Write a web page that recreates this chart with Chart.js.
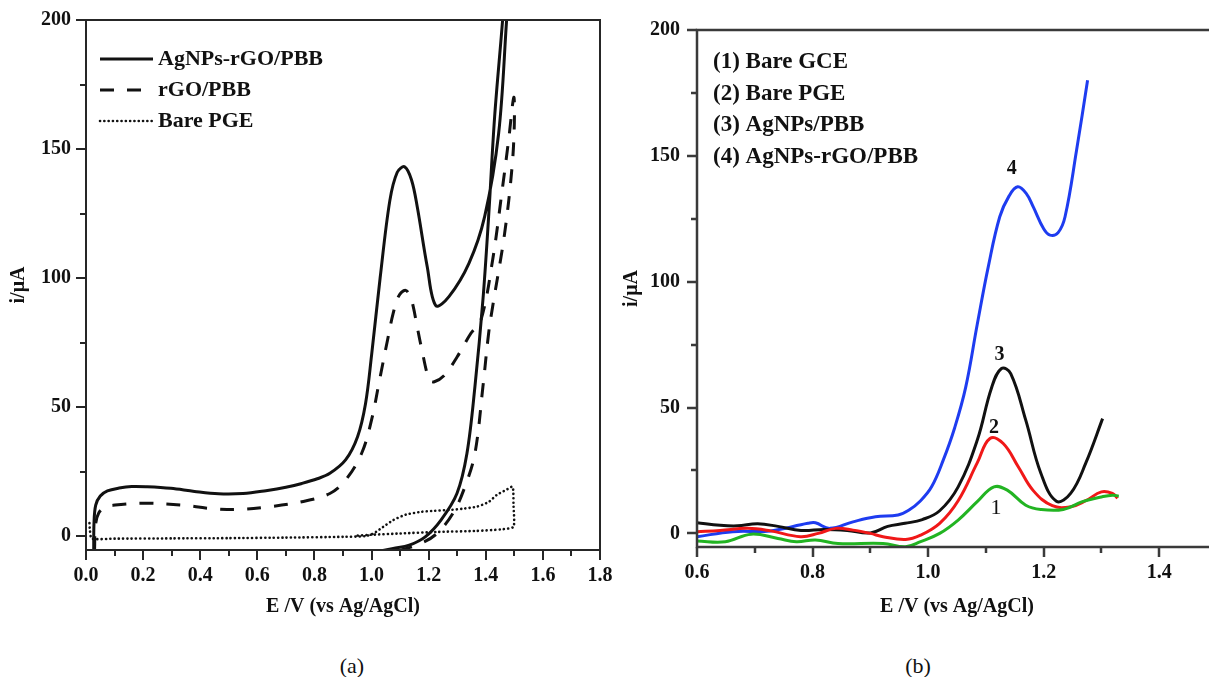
<!DOCTYPE html>
<html lang="en">
<head>
<meta charset="UTF-8">
<title>AgNPs-rGO/PBB electrode: CV and DPV</title>
<script src="https://cdn.jsdelivr.net/npm/chart.js"></script>
<style>
  html, body { margin: 0; padding: 0; background: #fff; overflow: hidden; }
  body { width: 1209px; height: 677px; position: relative; font-family: "Liberation Serif", "Times New Roman", serif; }
  #cvChart { position: absolute; left: 0; top: -8px; }
  #dpvChart { position: absolute; left: 612px; top: 0; }
  .caption { position: absolute; top: 653px; width: 60px; margin-left: -30px; text-align: center; font-size: 22px; line-height: 26px; color: #111; }
</style>
</head>
<body>
<canvas id="cvChart" width="628" height="648"></canvas>
<canvas id="dpvChart" width="620" height="640"></canvas>
<div class="caption" style="left:352px">(a)</div>
<div class="caption" style="left:918px">(b)</div>

<script>
// ---- (a) cyclic voltammograms, forward sweep then reverse sweep ----
const cvLabels = ['AgNPs-rGO/PBB', 'rGO/PBB', 'Bare PGE'];

const cvCompositeE = [0.027, 0.028, 0.034, 0.05, 0.075, 0.116, 0.16, 0.214, 0.297, 0.38, 0.464, 0.55, 0.63, 0.7, 0.756,
  0.81, 0.854, 0.909, 0.951, 0.979, 1.0, 1.03, 1.064, 1.09, 1.116, 1.14, 1.16, 1.195, 1.225, 1.271, 1.341, 1.396,
  1.445, 1.473, 1.482,
  1.468, 1.459, 1.431, 1.41, 1.39, 1.362, 1.334, 1.299, 1.243, 1.188, 1.132, 1.076, 1.04];
const cvCompositeI = [-5.5, 5, 12, 15.5, 17.5, 18.6, 19.2, 19.1, 18.5, 17.3, 16.4, 16.5, 17.6, 18.9, 20.4,
  22.2, 24.3, 29.5, 38.5, 51.4, 70, 100, 130, 141, 143.1, 138, 127.6, 104.4, 89.3, 92.8, 105.7, 123.8,
  156, 200, 215,
  215, 200, 162.5, 123.8, 91.5, 57.9, 32, 16.5, 6.2, -0.3, -3.5, -4.8, -5.6];

const cvRgoE = [0.03, 0.033, 0.045, 0.07, 0.102, 0.16, 0.228, 0.339, 0.436, 0.534, 0.645, 0.756, 0.854, 0.909, 0.965,
  1.0, 1.028, 1.056, 1.075, 1.095, 1.118, 1.135, 1.146, 1.16, 1.174, 1.202, 1.22, 1.256, 1.3, 1.348, 1.383, 1.424,
  1.459, 1.48, 1.498,
  1.5, 1.492, 1.466, 1.424, 1.41, 1.39, 1.362, 1.327, 1.285, 1.229, 1.174, 1.1];
const cvRgoI = [-5.5, 4, 9, 11.3, 12, 12.6, 12.7, 12, 10.7, 10.3, 11.4, 13.3, 16.5, 21.7, 32,
  45, 60.5, 76, 86, 93, 95.3, 93, 88.9, 81, 73.4, 60.5, 59.8, 62.4, 69.5, 78.6, 83.7, 107,
  135.4, 153.5, 170,
  160, 143, 117.3, 88.9, 78.6, 57.9, 32, 19.1, 8.8, 1, -2.8, -5.6];

const cvBareE = [0.012, 0.014, 0.02, 0.1, 0.3, 0.5, 0.7, 0.9, 0.98, 1.007, 1.04, 1.076, 1.12, 1.174, 1.22, 1.271,
  1.32, 1.369, 1.41, 1.438, 1.47, 1.494, 1.497, 1.497, 1.452, 1.369, 1.229, 1.1, 1.0, 0.95];
const cvBareI = [5, 2, -1, -1, -0.9, -0.8, -0.6, -0.3, 0, 1, 3.5, 6.2, 8.3, 9.4, 9.8, 10.1,
  10.6, 11.4, 13.2, 15.9, 17.8, 19.1, 12, 3.6, 2.6, 2, 1.6, 1, 0.5, 0.2];

// ---- (b) differential pulse voltammograms ----
const dpvLabels = ['(1) Bare GCE', '(2) Bare PGE', '(3) AgNPs/PBB', '(4) AgNPs-rGO/PBB'];
const dpvTags = ['1', '2', '3', '4'];

const dpvGceE = [0.6, 0.649, 0.694, 0.74, 0.772, 0.805, 0.844, 0.922, 0.961, 0.987, 1.02, 1.052, 1.085, 1.114,
  1.137, 1.169, 1.195, 1.234, 1.267, 1.3, 1.319, 1.33];
const dpvGceI = [-3, -3.3, -0.3, -2, -3.3, -2.6, -4, -4, -5.3, -3.3, 0, 5.3, 12.6, 18.5,
  17.2, 11.2, 9.5, 9.5, 12.6, 14.5, 15.2, 14.8];

const dpvPgeE = [0.6, 0.64, 0.688, 0.727, 0.779, 0.81, 0.84, 0.87, 0.9, 0.922, 0.961, 0.987, 1.02, 1.052, 1.085,
  1.107, 1.13, 1.156, 1.182, 1.215, 1.247, 1.273, 1.3, 1.319, 1.328];
const dpvPgeI = [0.7, 1.2, 2, 1, -1.3, 0, 2, 1.3, 0, -1.3, -2.4, -0.7, 4, 13, 28,
  37.7, 35.7, 26.5, 17, 11, 10.6, 13, 16.5, 15.9, 14];

const dpvAgE = [0.6, 0.64, 0.67, 0.705, 0.74, 0.78, 0.82, 0.86, 0.9, 0.93, 0.96, 0.99, 1.02, 1.052, 1.085,
  1.11, 1.127, 1.143, 1.169, 1.195, 1.222, 1.247, 1.273, 1.302];
const dpvAgI = [4.2, 3.2, 3, 3.8, 2.8, 1.2, 1.6, 1.2, 0.2, 2.8, 4, 5.5, 9, 18.5, 37,
  58, 65.5, 63.5, 45, 24, 12.8, 16, 28, 45.6];

const dpvCompositeE = [0.6, 0.662, 0.727, 0.792, 0.805, 0.83, 0.87, 0.909, 0.948, 0.967, 0.987, 1.006, 1.026,
  1.046, 1.065, 1.085, 1.104, 1.124, 1.14, 1.155, 1.17, 1.182, 1.2, 1.211, 1.225, 1.237, 1.257, 1.276];
const dpvCompositeI = [-1.3, 0.7, 1, 4, 4.2, 2, 4.6, 6.6, 7.3, 9.3, 13, 18.5, 29,
  42, 58, 83, 105.8, 125.8, 134, 137.7, 135, 129.7, 121, 118.5, 119.5, 125.8, 152.3, 180];

// ---- shared helpers ----
const SERIF = "'Liberation Serif', 'Times New Roman', serif";
Chart.defaults.font.family = SERIF;
Chart.defaults.color = '#111';

function points(E, I) {
  return E.map((e, i) => ({ x: e, y: I[i] }));
}

// frame around the plot plus outward major/minor tick marks
const axisFrame = {
  id: 'axisFrame',
  afterDatasetsDraw(chart, args, opts) {
    const { ctx, chartArea: area, scales } = chart;
    ctx.save();
    ctx.strokeStyle = opts.color;
    ctx.lineWidth = opts.width;
    ctx.setLineDash([]);
    ctx.strokeRect(area.left, area.top, area.right - area.left, area.bottom - area.top);
    ctx.beginPath();
    scales.x.ticks.forEach(t => {
      const px = Math.round(scales.x.getPixelForValue(t.value));
      const len = t.label ? opts.major : opts.minor;
      ctx.moveTo(px, area.bottom);
      ctx.lineTo(px, area.bottom + len);
    });
    scales.y.ticks.forEach(t => {
      const py = Math.round(scales.y.getPixelForValue(t.value));
      const len = t.label ? opts.major : opts.minor;
      ctx.moveTo(area.left - len, py);
      ctx.lineTo(area.left, py);
    });
    ctx.stroke();
    ctx.restore();
  }
};

function axes(xMin, xMax, leftWidth, bottomHeight, labelPad, yTitlePad) {
  return {
    x: {
      type: 'linear', min: xMin, max: xMax,
      grid: { display: false, drawTicks: false },
      border: { display: false },
      ticks: {
        stepSize: 0.1, autoSkip: false, maxRotation: 0, padding: 14,
        font: { size: 20, weight: 'bold' }, color: '#111',
        callback: (v, i) => (i % 2 === 0 ? v.toFixed(1) : '')
      },
      title: {
        display: true, text: 'E /V (vs Ag/AgCl)', color: '#111',
        font: { size: 20, weight: 'bold' }, padding: { top: 0, bottom: 21 }
      },
      afterFit: s => { s.height = bottomHeight; }
    },
    y: {
      type: 'linear', min: -5.4, max: 200,
      grid: { display: false, drawTicks: false },
      border: { display: false },
      ticks: {
        stepSize: 25, autoSkip: false, includeBounds: false, padding: labelPad,
        font: { size: 20, weight: 'bold' }, color: '#111',
        callback: v => (v % 50 === 0 ? String(v) : '')
      },
      title: {
        display: true, text: 'i/μA', color: '#111',
        font: { size: 20, weight: 'bold' }, padding: { top: yTitlePad, bottom: 0 }
      },
      afterFit: s => { s.width = leftWidth; }
    }
  };
}

// ---- (a) ----
const cvLegend = {
  id: 'cvLegend',
  afterDatasetsDraw(chart) {
    const { ctx, chartArea: area } = chart;
    ctx.save();
    ctx.font = 'bold 22px ' + SERIF;
    ctx.textBaseline = 'middle';
    ctx.fillStyle = '#111';
    chart.data.datasets.forEach((ds, i) => {
      const y = area.top + 39 + i * 31;
      ctx.strokeStyle = ds.borderColor;
      ctx.lineWidth = ds.borderWidth;
      ctx.lineCap = ds.borderCapStyle || 'butt';
      ctx.setLineDash(ds.borderDash || []);
      ctx.beginPath();
      ctx.moveTo(area.left + 14, y);
      ctx.lineTo(area.left + 67, y);
      ctx.stroke();
      ctx.fillText(ds.label, area.left + 72, y);
    });
    ctx.restore();
  }
};

new Chart(document.getElementById('cvChart'), {
  type: 'scatter',
  data: {
    datasets: [
      { label: cvLabels[0], data: points(cvCompositeE, cvCompositeI), borderColor: '#111', borderWidth: 3, tension: 0.35 },
      { label: cvLabels[1], data: points(cvRgoE, cvRgoI), borderColor: '#111', borderWidth: 3, borderDash: [14, 13], tension: 0.35 },
      { label: cvLabels[2], data: points(cvBareE, cvBareI), borderColor: '#111', borderWidth: 2.6, borderDash: [0.1, 4.2], borderCapStyle: 'round', tension: 0.2 }
    ].map(ds => Object.assign(ds, { showLine: true, pointRadius: 0, pointHoverRadius: 0 }))
  },
  options: {
    responsive: false,
    animation: false,
    events: [],
    layout: { padding: { top: 28, right: 28, left: 0, bottom: 0 } },
    elements: { line: { capBezierPoints: false } },
    scales: axes(0, 1.8, 86, 90, 15, 7),
    plugins: {
      legend: { display: false },
      tooltip: { enabled: false },
      axisFrame: { color: '#262626', width: 2, major: 10, minor: 6 }
    }
  },
  plugins: [axisFrame, cvLegend]
});

// ---- (b) ----
const dpvNotes = {
  id: 'dpvNotes',
  afterDatasetsDraw(chart) {
    const { ctx, chartArea: area, scales: { x, y } } = chart;
    ctx.save();
    ctx.fillStyle = '#111';
    ctx.textBaseline = 'middle';
    ctx.font = 'bold 23px ' + SERIF;
    dpvLabels.forEach((t, i) => ctx.fillText(t, area.left + 16, area.top + 32 + i * 31.7));

    // curve numbers sit above each oxidation peak (number 1 sits below its peak)
    const shift = [{ dx: 2, dy: 21, weight: 'normal', size: 22 }, { dx: 4, dy: -11 }, { dx: -2, dy: -14 }, { dx: -6, dy: -18 }];
    ctx.textAlign = 'center';
    chart.data.datasets.forEach((ds, i) => {
      const peak = ds.data.filter(p => p.x > 1.05 && p.x < 1.2).reduce((a, b) => (b.y > a.y ? b : a));
      const s = shift[i];
      ctx.font = (s.weight || 'bold') + ' ' + (s.size || 20) + 'px ' + SERIF;
      ctx.fillText(dpvTags[i], x.getPixelForValue(peak.x) + s.dx, y.getPixelForValue(peak.y) + s.dy);
    });
    ctx.restore();
  }
};

new Chart(document.getElementById('dpvChart'), {
  type: 'scatter',
  data: {
    datasets: [
      { label: dpvLabels[0], data: points(dpvGceE, dpvGceI), borderColor: '#22b422' },
      { label: dpvLabels[1], data: points(dpvPgeE, dpvPgeI), borderColor: '#f01818' },
      { label: dpvLabels[2], data: points(dpvAgE, dpvAgI), borderColor: '#111111' },
      { label: dpvLabels[3], data: points(dpvCompositeE, dpvCompositeI), borderColor: '#1e3cf0' }
    ].map(ds => Object.assign(ds, { showLine: true, pointRadius: 0, pointHoverRadius: 0, borderWidth: 3, tension: 0.4 }))
  },
  options: {
    responsive: false,
    animation: false,
    events: [],
    layout: { padding: { top: 30, right: 15, left: 0, bottom: 0 } },
    elements: { line: { capBezierPoints: false } },
    scales: axes(0.6, 1.5, 85, 93, 17, 8),
    plugins: {
      legend: { display: false },
      tooltip: { enabled: false },
      axisFrame: { color: '#3a3a3a', width: 2.5, major: 10, minor: 6 }
    }
  },
  plugins: [axisFrame, dpvNotes]
});
</script>
</body>
</html>
